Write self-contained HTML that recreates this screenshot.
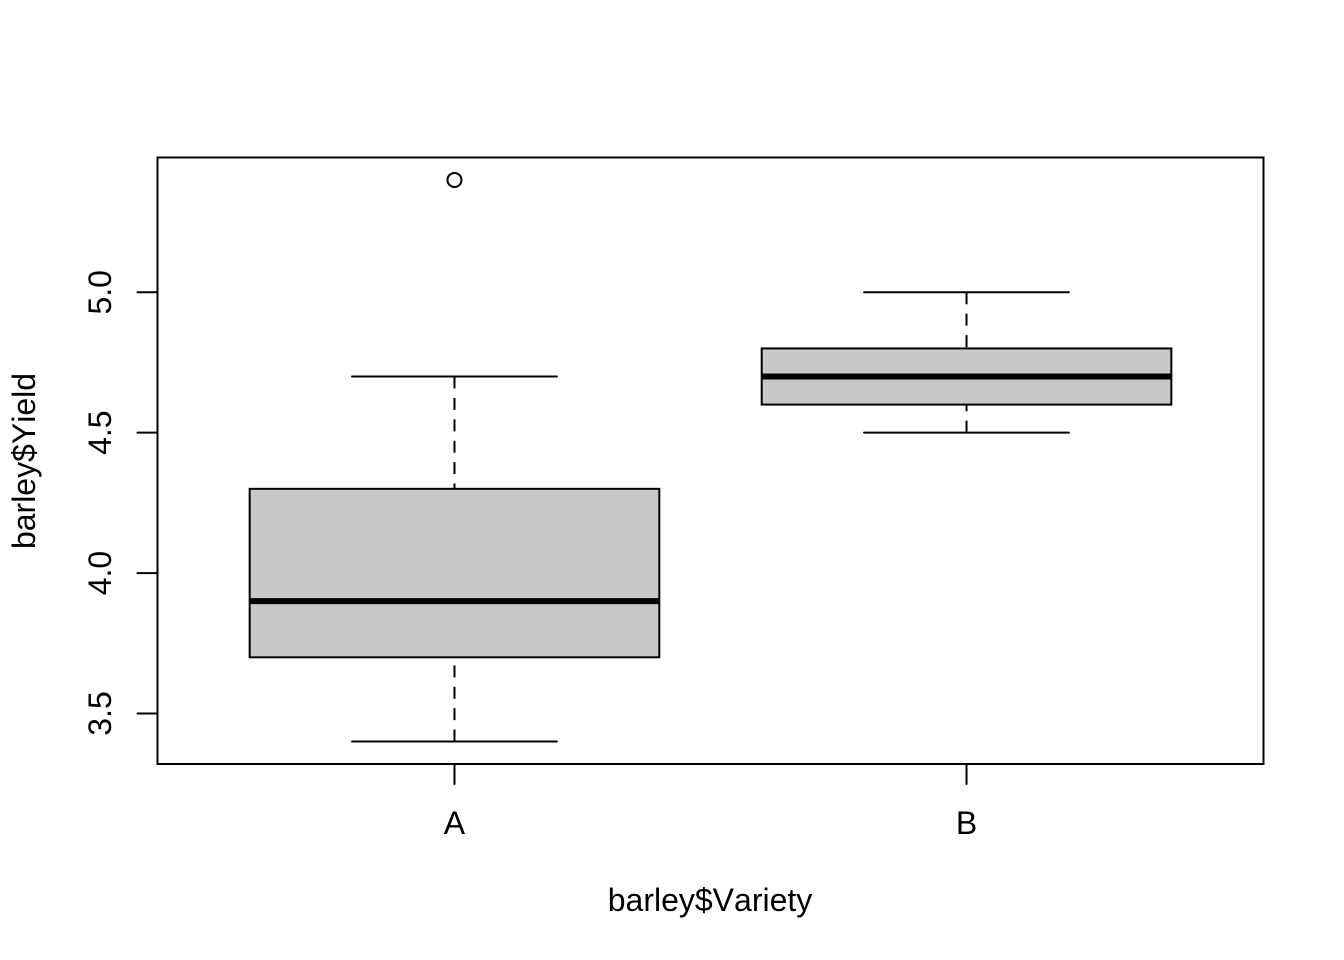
<!DOCTYPE html>
<html lang="en">
<head>
<meta charset="utf-8">
<title>barley$Yield by barley$Variety</title>
<style>
  html, body { margin: 0; padding: 0; background: #fff; }
  svg { display: block; }
  text { font-family: "Liberation Sans", Arial, sans-serif; font-size: 32px; fill: #000; font-kerning: none; }
</style>
</head>
<body>
<svg id="chart" xmlns="http://www.w3.org/2000/svg" width="1344" height="960" viewBox="0 0 1344 960">
  <rect x="0" y="0" width="1344" height="960" fill="#ffffff"/>
  <g id="boxes"></g>
  <rect x="157.5" y="157.5" width="1106" height="606.5" fill="none" stroke="#000" stroke-width="2"/>
  <g id="axes"></g>
  <text x="710" y="911" text-anchor="middle">barley$Variety</text>
  <text transform="translate(35 461) rotate(-90)" text-anchor="middle">barley$Yield</text>
</svg>
<script>
const categories = ['A', 'B'];
const whiskerLow = [3.4, 4.5];
const quartile1 = [3.7, 4.6];
const medians = [3.9, 4.7];
const quartile3 = [4.3, 4.8];
const whiskerHigh = [4.7, 5.0];
const outliers = [[5.4], []];
const yTicks = [3.5, 4.0, 4.5, 5.0];
const yTickLabels = ['3.5', '4.0', '4.5', '5.0'];

const NS = 'http://www.w3.org/2000/svg';
const plot = { left: 157.5, right: 1263.5, top: 157.5, bottom: 764 };
const xDomain = [0.42, categories.length + 0.58];
const yDomain = [3.32, 5.48];

function xScale(v) {
  return plot.left + (v - xDomain[0]) / (xDomain[1] - xDomain[0]) * (plot.right - plot.left);
}
function yScale(v) {
  return plot.bottom - (v - yDomain[0]) / (yDomain[1] - yDomain[0]) * (plot.bottom - plot.top);
}
function make(tag, parent, props) {
  const node = document.createElementNS(NS, tag);
  for (const key in props) node.setAttribute(key, props[key]);
  parent.appendChild(node);
  return node;
}
function seg(parent, x1, y1, x2, y2, width, dash) {
  const props = { x1: x1, y1: y1, x2: x2, y2: y2, stroke: '#000', 'stroke-width': width };
  if (dash) props['stroke-dasharray'] = dash;
  else props['stroke-linecap'] = 'round';
  return make('line', parent, props);
}

const boxesLayer = document.getElementById('boxes');
const axesLayer = document.getElementById('axes');

categories.forEach(function (cat, i) {
  const cx = xScale(i + 1);
  const halfBox = xScale(1.4) - xScale(1);
  const halfStaple = xScale(1.2) - xScale(1);
  const key = cat.toLowerCase();

  const group = make('g', boxesLayer, {});
  
  

  const lowerWhisker = seg(group, cx, yScale(whiskerLow[i]), cx, yScale(quartile1[i]), 2, '12 9.4');
  
  

  const upperWhisker = seg(group, cx, yScale(whiskerHigh[i]), cx, yScale(quartile3[i]), 2, '12 9.4');
  
  

  const lowerStaple = seg(group, cx - halfStaple, yScale(whiskerLow[i]), cx + halfStaple, yScale(whiskerLow[i]), 2);
  
  

  const upperStaple = seg(group, cx - halfStaple, yScale(whiskerHigh[i]), cx + halfStaple, yScale(whiskerHigh[i]), 2);
  
  

  const box = make('rect', group, {
    x: cx - halfBox,
    y: yScale(quartile3[i]),
    width: halfBox * 2,
    height: yScale(quartile1[i]) - yScale(quartile3[i]),
    fill: '#c8c8c8',
    stroke: '#000',
    'stroke-width': 2
  });
  
  

  const median = seg(group, cx - halfBox, yScale(medians[i]), cx + halfBox, yScale(medians[i]), 6);
  median.setAttribute('stroke-linecap', 'butt');
  
  

  outliers[i].forEach(function (value) {
    const point = make('circle', group, {
      cx: cx,
      cy: yScale(value),
      r: 7,
      fill: 'none',
      stroke: '#000',
      'stroke-width': 2
    });
    
    
  });
});

const xAxisLine = seg(axesLayer, xScale(1), plot.bottom, xScale(categories.length), plot.bottom, 2);



categories.forEach(function (cat, i) {
  const key = cat.toLowerCase();
  const tick = seg(axesLayer, xScale(i + 1), plot.bottom, xScale(i + 1), plot.bottom + 20, 2);
  
  

  const label = make('text', axesLayer, { x: xScale(i + 1), y: 834, 'text-anchor': 'middle' });
  label.textContent = cat;
  
  
});

const yAxisLine = seg(axesLayer, plot.left, yScale(yTicks[0]), plot.left, yScale(yTicks[yTicks.length - 1]), 2);



yTicks.forEach(function (value, i) {
  const tick = seg(axesLayer, plot.left - 20, yScale(value), plot.left, yScale(value), 2);
  
  

  const label = make('text', axesLayer, {
    transform: 'translate(111 ' + yScale(value) + ') rotate(-90)',
    'text-anchor': 'middle'
  });
  label.textContent = yTickLabels[i];
  
  
});
</script>
</body>
</html>
